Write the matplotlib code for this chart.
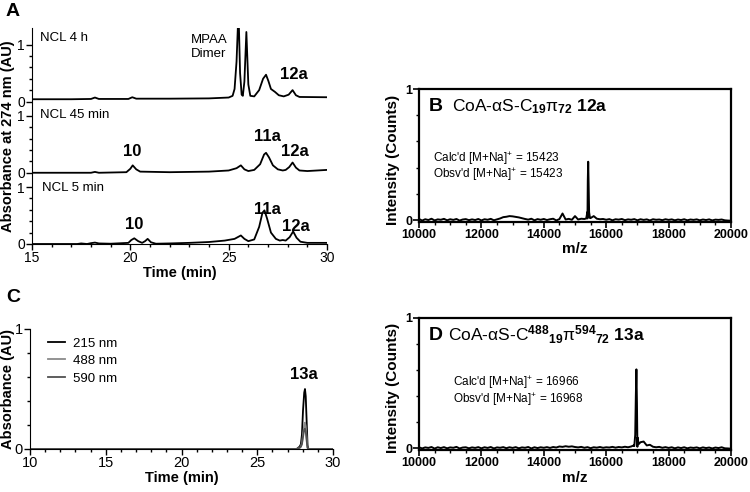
import numpy as np
import matplotlib
matplotlib.use("Agg")
import matplotlib.pyplot as plt
from matplotlib.ticker import MultipleLocator, FixedLocator

plt.rcParams['font.family'] = ['Liberation Sans', 'DejaVu Sans']
plt.rcParams['mathtext.fontset'] = 'custom'
plt.rcParams['mathtext.rm'] = 'Liberation Sans'
plt.rcParams['mathtext.bf'] = 'Liberation Sans:bold'
plt.rcParams['mathtext.it'] = 'Liberation Sans:italic'

# ---- Panel A: HPLC traces (time in min, absorbance in AU) ----
t_4h = [15.0, 17.0, 18.0, 18.2, 18.4, 19.9, 20.1, 20.3, 22.0, 24.0, 25.0, 25.2, 25.3,
        25.4, 25.5, 25.58, 25.66, 25.72, 25.8, 25.9, 26.0, 26.1, 26.3, 26.55, 26.75,
        26.9, 27.02, 27.15, 27.35, 27.55, 27.8, 28.05, 28.25, 28.42, 28.6, 30.0]
a_4h = [0.04, 0.04, 0.045, 0.07, 0.045, 0.045, 0.075, 0.05, 0.05, 0.055, 0.07, 0.1, 0.22,
        0.7, 1.6, 0.5, 0.12, 0.1, 0.35, 1.22, 0.3, 0.1, 0.09, 0.2, 0.4,
        0.47, 0.36, 0.22, 0.17, 0.11, 0.09, 0.12, 0.2, 0.11, 0.08, 0.075]

t_45 = [15.0, 18.0, 18.2, 18.4, 19.8, 20.0, 20.12, 20.3, 20.5, 22.0, 24.0, 25.0, 25.4,
        25.62, 25.8, 26.0, 26.3, 26.6, 26.8, 26.9, 27.05, 27.25, 27.5, 27.75, 27.9,
        28.08, 28.25, 28.42, 28.6, 29.0, 30.0]
a_45 = [0.0, 0.0, 0.015, 0.0, 0.01, 0.07, 0.13, 0.06, 0.02, 0.01, 0.02, 0.04, 0.08,
        0.13, 0.06, 0.03, 0.05, 0.15, 0.32, 0.35, 0.27, 0.13, 0.06, 0.04, 0.05,
        0.1, 0.18, 0.09, 0.04, 0.03, 0.05]

t_5m = [15.0, 17.3, 17.5, 17.8, 18.0, 18.2, 18.4, 19.0, 19.9, 20.05, 20.2, 20.4, 20.6,
        20.75, 20.88, 21.05, 21.3, 22.0, 23.0, 24.0, 24.8, 25.3, 25.62, 25.8, 26.0,
        26.3, 26.55, 26.72, 26.82, 26.95, 27.15, 27.4, 27.6, 27.75, 27.9, 28.1, 28.28,
        28.45, 28.65, 29.0, 30.0]
a_5m = [0.0, 0.0, 0.01, 0.0, 0.015, 0.025, 0.01, 0.005, 0.02, 0.07, 0.1, 0.05, 0.02,
        0.05, 0.09, 0.03, 0.005, 0.01, 0.02, 0.035, 0.06, 0.09, 0.15, 0.09, 0.05,
        0.08, 0.3, 0.55, 0.59, 0.45, 0.2, 0.09, 0.06, 0.07, 0.06, 0.12, 0.22,
        0.11, 0.04, 0.02, 0.02]

# ---- Panel C: HPLC of 13a at three wavelengths ----
t_c = [10.0, 27.6, 27.7, 27.8, 27.88, 27.95, 28.02, 28.1, 28.15, 28.2, 28.27, 28.32, 28.38, 30.0]
a_215 = [0.0, 0.0, 0.01, 0.02, 0.04, 0.12, 0.32, 0.47, 0.5, 0.44, 0.2, 0.03, 0.0, 0.0]
a_488 = [0.0, 0.0, 0.005, 0.01, 0.02, 0.05, 0.12, 0.2, 0.22, 0.19, 0.08, 0.01, 0.0, 0.0]
a_590 = [0.0, 0.0, 0.005, 0.01, 0.02, 0.04, 0.1, 0.16, 0.17, 0.15, 0.06, 0.01, 0.0, 0.0]

# ---- Panels B and D: mass spectra ----
mz_grid = np.arange(10000, 20001, 100)
int_b = [0.008, -0.004, 0.006, 0.0, 0.01, -0.003, 0.005, 0.002, 0.009, -0.002,
         0.006, 0.001, 0.008, -0.004, 0.004, 0.007, -0.001, 0.005, 0.0, 0.008,
         -0.003, 0.006, 0.002, 0.009, -0.002, 0.005, 0.012, 0.022, 0.025, 0.03,
         0.028, 0.024, 0.02, 0.014, 0.008, 0.003, 0.01, -0.002, 0.007, 0.002,
         0.008, 0.0, 0.006, 0.01, -0.003, 0.007, 0.05, 0.004, 0.009, 0.002,
         0.03, 0.004, 0.01, 0.008, 0.012, 0.015, 0.03, 0.01, 0.006, 0.008,
         0.002, 0.007, -0.002, 0.006, 0.003, 0.008, -0.001, 0.005, 0.002, 0.007,
         -0.002, 0.006, 0.001, 0.005, -0.003, 0.006, 0.002, 0.004, -0.001, 0.006,
         0.001, 0.005, -0.002, 0.004, 0.0, 0.006, -0.002, 0.004, 0.001, 0.005,
         -0.002, 0.004, 0.0, 0.005, -0.003, 0.003, 0.001, 0.004, -0.002, -0.004,
         -0.005]
pk_mz_b = [15360, 15395, 15410, 15423, 15436, 15452, 15480]
pk_int_b = [0.012, 0.06, 0.3, 0.445, 0.28, 0.06, 0.015]

int_d = [0.006, -0.003, 0.005, 0.001, 0.008, -0.004, 0.006, 0.0, 0.007, -0.002,
         0.005, 0.002, 0.009, -0.003, 0.004, 0.006, -0.002, 0.005, 0.001, 0.007,
         -0.002, 0.006, 0.001, 0.008, -0.003, 0.005, 0.002, 0.007, -0.001, 0.006,
         0.001, 0.007, -0.002, 0.005, 0.002, 0.008, -0.003, 0.006, 0.0, 0.006,
         0.002, 0.007, 0.001, 0.008, 0.004, 0.012, 0.009, 0.014, 0.01, 0.013,
         0.008, 0.005, 0.009, 0.002, 0.007, -0.001, 0.006, 0.003, 0.008, 0.002,
         0.006, 0.004, 0.009, 0.003, 0.008, 0.005, 0.01, 0.006, 0.012, 0.015,
         0.01, 0.045, 0.05, 0.02, 0.025, 0.01, 0.006, 0.009, 0.002, 0.007,
         0.001, 0.006, -0.002, 0.005, 0.0, 0.006, -0.002, 0.004, 0.001, 0.005,
         -0.002, 0.005, 0.0, 0.004, -0.003, 0.004, 0.0, 0.006, -0.002, -0.003,
         -0.005]
pk_mz_d = [16880, 16930, 16950, 16968, 16985, 17005, 17040]
pk_int_d = [0.02, 0.1, 0.4, 0.605, 0.35, 0.08, 0.03]

calc_b = "Calc'd [M+Na]$^{+}$ = 15423"
obsv_b = "Obsv'd [M+Na]$^{+}$ = 15423"
calc_d = "Calc'd [M+Na]$^{+}$ = 16966"
obsv_d = "Obsv'd [M+Na]$^{+}$ = 16968"


def ms_axis(ax, grid, vals, pmz, pint):
    x = np.concatenate([grid, pmz])
    y = np.concatenate([vals, pint])
    o = np.argsort(x)
    ax.plot(x[o], y[o], color='black', lw=1.4)
    ax.set_xlim(10000, 20000)
    ax.set_ylim(-0.015, 1.0)
    ax.xaxis.set_major_locator(MultipleLocator(2000))
    ax.xaxis.set_minor_locator(MultipleLocator(500))
    ax.set_yticks([0, 1])
    ax.yaxis.set_minor_locator(MultipleLocator(0.2))
    ax.tick_params(which='major', length=4, width=1.2, labelsize=9, pad=1)
    ax.tick_params(which='minor', length=2.5, width=1)
    for lab in ax.get_xticklabels() + ax.get_yticklabels():
        lab.set_fontweight('bold')
    for s in ax.spines.values():
        s.set_linewidth(1.6)
    ax.set_xlabel('m/z', fontsize=11, fontweight='bold')
    ax.set_ylabel('Intensity (Counts)', fontsize=11, fontweight='bold')
    ax.yaxis.set_label_coords(-0.062, 0.47)


fig = plt.figure(figsize=(7.5, 4.92), dpi=100)

# Panel A
axA = fig.add_axes([32/750, 1-244/492, 295/750, 216/492])
offs = [2.5, 1.25, 0.0]
for tt, aa, off in zip([t_4h, t_45, t_5m], [a_4h, a_45, a_5m], offs):
    axA.plot(tt, np.array(aa) + off, color='black', lw=1.3)
axA.set_xlim(15, 30)
axA.set_ylim(0, 3.79)
axA.spines['top'].set_visible(False)
axA.spines['right'].set_visible(False)
axA.xaxis.set_major_locator(MultipleLocator(5))
axA.xaxis.set_minor_locator(MultipleLocator(1))
yt = []
ym = []
for off in offs:
    yt += [off, off + 1]
    ym += [off + 0.2, off + 0.4, off + 0.6, off + 0.8]
axA.yaxis.set_major_locator(FixedLocator(sorted(yt)))
axA.set_yticklabels(['0', '1'] * 3)
axA.yaxis.set_minor_locator(FixedLocator(ym))
axA.tick_params(which='major', length=4, width=1, labelsize=10, pad=1)
axA.tick_params(which='minor', length=2.5, width=1)
axA.set_xlabel('Time (min)', fontsize=10.5, fontweight='bold', labelpad=1)
axA.set_ylabel('Absorbance at 274 nm (AU)', fontsize=10.5, fontweight='bold')
axA.yaxis.set_label_coords(-0.058, 0.5)
axA.text(15.4, 3.62, 'NCL 4 h', fontsize=9.5, va='center')
axA.text(15.4, 2.27, 'NCL 45 min', fontsize=9.5, va='center')
axA.text(15.5, 0.98, 'NCL 5 min', fontsize=9.5, va='center')
axA.text(23.1, 3.45, 'MPAA\nDimer', fontsize=9.5, va='center', linespacing=1.2)
axA.text(28.3, 2.97, '12a', fontsize=12, fontweight='bold', ha='center', va='center')
axA.text(20.1, 1.63, '10', fontsize=12, fontweight='bold', ha='center', va='center')
axA.text(26.95, 1.88, '11a', fontsize=12, fontweight='bold', ha='center', va='center')
axA.text(28.35, 1.62, '12a', fontsize=12, fontweight='bold', ha='center', va='center')
axA.text(20.2, 0.35, '10', fontsize=12, fontweight='bold', ha='center', va='center')
axA.text(26.95, 0.6, '11a', fontsize=12, fontweight='bold', ha='center', va='center')
axA.text(28.4, 0.3, '12a', fontsize=12, fontweight='bold', ha='center', va='center')
fig.text(6/750, 1-12/492, 'A', fontsize=14, fontweight='bold', va='center')

# Panel C
axC = fig.add_axes([30/750, 1-449/492, 303/750, 120/492])
axC.plot(t_c, a_215, color='black', lw=1.3, label='215 nm')
axC.plot(t_c, a_488, color='#8a8a8a', lw=1.3, label='488 nm')
axC.plot(t_c, a_590, color='#505050', lw=1.3, label='590 nm')
axC.set_xlim(10, 30)
axC.set_ylim(0, 1)
axC.spines['top'].set_visible(False)
axC.spines['right'].set_visible(False)
axC.xaxis.set_major_locator(MultipleLocator(5))
axC.xaxis.set_minor_locator(MultipleLocator(1))
axC.set_yticks([0, 1])
axC.yaxis.set_minor_locator(MultipleLocator(0.2))
axC.tick_params(which='major', length=4, width=1, labelsize=10.5, pad=1)
axC.tick_params(which='minor', length=2.5, width=1)
axC.set_xlabel('Time (min)', fontsize=10.5, fontweight='bold', labelpad=1)
axC.set_ylabel('Absorbance (AU)', fontsize=10.5, fontweight='bold')
axC.yaxis.set_label_coords(-0.05, 0.5)
axC.legend(loc='upper left', bbox_to_anchor=(0.02, 1.03), frameon=False, fontsize=9.5,
           handlelength=1.3, handletextpad=0.6, labelspacing=0.4)
axC.text(28.1, 0.62, '13a', fontsize=12, fontweight='bold', ha='center', va='center')
fig.text(6/750, 1-298/492, 'C', fontsize=14, fontweight='bold', va='center')

# Panel B
axB = fig.add_axes([419/750, 1-222/492, 312/750, 133/492])
ms_axis(axB, mz_grid, int_b, pk_mz_b, pk_int_b)
axB.xaxis.set_label_coords(0.5, -0.15)
axB.text(0.03, 0.87, 'B', transform=axB.transAxes, fontsize=14, fontweight='bold', va='center')
axB.text(0.105, 0.87, r'CoA-αS-C$_{\mathbf{19}}$π$_{\mathbf{72}}$ $\mathbf{12a}$',
         transform=axB.transAxes, fontsize=12.5, va='center')
axB.text(0.044, 0.475, calc_b, transform=axB.transAxes, fontsize=8.5, va='center')
axB.text(0.044, 0.355, obsv_b, transform=axB.transAxes, fontsize=8.5, va='center')

# Panel D
axD = fig.add_axes([419/750, 1-450/492, 312/750, 132/492])
ms_axis(axD, mz_grid, int_d, pk_mz_d, pk_int_d)
axD.xaxis.set_label_coords(0.5, -0.16)
axD.text(0.03, 0.87, 'D', transform=axD.transAxes, fontsize=14, fontweight='bold', va='center')
axD.text(0.092, 0.87, r'CoA-αS-C$^{\mathbf{488}}{}_{\mathbf{19}}$π$^{\mathbf{594}}{}_{\mathbf{72}}$ $\mathbf{13a}$',
         transform=axD.transAxes, fontsize=12.5, va='center')
axD.text(0.11, 0.51, calc_d, transform=axD.transAxes, fontsize=8.5, va='center')
axD.text(0.11, 0.385, obsv_d, transform=axD.transAxes, fontsize=8.5, va='center')

fig.savefig('out.png', dpi=100)
